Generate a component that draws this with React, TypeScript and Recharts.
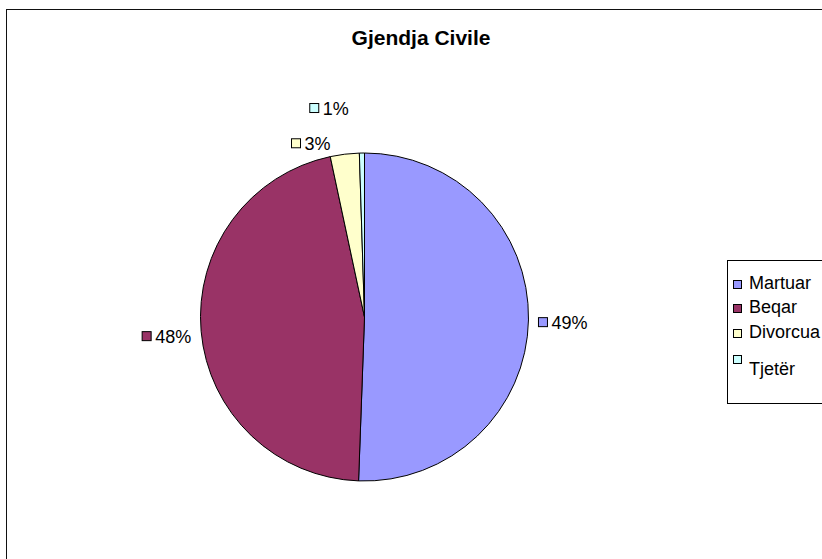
import React from "react";
import { PieChart, Pie, Cell } from "recharts";

const CATEGORIES = ["Martuar", "Beqar", "Divorcua", "Tjetër"];
// slice sizes as drawn (the printed labels are rounded differently)
const SHARES = [50.6, 46.1, 2.85, 0.5];
const LABELS = ["49%", "48%", "3%", "1%"];
const COLORS = ["#9999FF", "#993366", "#FFFFCC", "#CCFFFF"];

const data = CATEGORIES.map((name, i) => ({ name, value: SHARES[i], label: LABELS[i] }));

const FONT = "'Liberation Sans', Arial, sans-serif";
const LABEL_SIZE = 18;
// Excel pushes the two thin top labels apart
const LABEL_NUDGE = [
  { dx: 0, dy: 2 },
  { dx: 0, dy: 4 },
  { dx: -13, dy: -1 },
  { dx: -13, dy: -35 },
];

// rough Arial advance widths for the label text
function textWidth(s: string, size: number) {
  let w = 0;
  for (const ch of s) w += ch === "%" ? 0.889 : 0.556;
  return w * size;
}

const RAD = Math.PI / 180;

function renderLabel(props: any) {
  const { cx, cy, midAngle, outerRadius, index } = props;
  const r = outerRadius + 10;
  const nudge = LABEL_NUDGE[index];
  const ax = cx + r * Math.cos(-midAngle * RAD) + nudge.dx;
  const ay = cy + r * Math.sin(-midAngle * RAD) + nudge.dy;
  const text = LABELS[index];
  const tw = textWidth(text, LABEL_SIZE);
  const right = Math.cos(-midAngle * RAD) >= 0.2;
  const sq = 9;
  const sqX = right ? ax : ax - tw - 13;
  const txX = right ? ax + 13 : ax - tw;
  return (
    <g key={`lbl-${index}`}>
      <rect x={sqX} y={ay - sq / 2} width={sq} height={sq} fill={COLORS[index]} stroke="#000" strokeWidth={1} />
      <text x={txX} y={ay} dy="0.36em" fontFamily={FONT} fontSize={LABEL_SIZE} fill="#000">
        {text}
      </text>
    </g>
  );
}

// legend box runs off the right edge of the picture, like the original
function LegendBox() {
  const rows = [
    { top: 283, sq: 283 },
    { top: 307, sq: 307 },
    { top: 332, sq: 332 },
    { top: 369, sq: 358 },
  ];
  return (
    <div
      style={{
        position: "absolute",
        left: 727,
        top: 260,
        width: 200,
        height: 144,
        border: "1px solid #000",
        borderRight: "none",
        background: "#fff",
        boxSizing: "border-box",
        fontFamily: FONT,
        fontSize: 18,
        color: "#000",
      }}
    >
      {CATEGORIES.map((c, i) => (
        <React.Fragment key={c}>
          <div
            style={{
              position: "absolute",
              left: 5,
              top: rows[i].sq - 260 - 4,
              width: 7,
              height: 7,
              background: COLORS[i],
              border: "1px solid #000",
            }}
          />
          <div
            style={{
              position: "absolute",
              left: 21,
              top: rows[i].top - 260 - 11,
              lineHeight: "21px",
              whiteSpace: "nowrap",
            }}
          >
            {c}
          </div>
        </React.Fragment>
      ))}
    </div>
  );
}

export default function App() {
  return (
    <div
      style={{
        position: "fixed",
        left: 0,
        top: 0,
        width: 822,
        height: 559,
        overflow: "hidden",
        background: "#fff",
      }}
    >
      <div
        style={{
          position: "absolute",
          left: 6,
          top: 9,
          width: 1000,
          height: 1000,
          border: "1.5px solid #111",
        }}
      />
      <div
        style={{
          position: "absolute",
          left: 0,
          top: 25,
          width: 842,
          textAlign: "center",
          fontFamily: FONT,
          fontWeight: "bold",
          fontSize: 21,
          lineHeight: "26px",
          color: "#000",
        }}
      >
        Gjendja Civile
      </div>
      <div style={{ position: "absolute", left: 0, top: 0 }}>
        <PieChart width={822} height={559} margin={{ top: 0, right: 0, bottom: 0, left: 0 }}>
          <Pie
            data={data}
            dataKey="value"
            nameKey="name"
            cx={364.5}
            cy={317}
            outerRadius={164}
            startAngle={90}
            endAngle={-270}
            stroke="#000"
            strokeWidth={1}
            label={renderLabel}
            labelLine={false}
            isAnimationActive={false}
          >
            {data.map((d, i) => (
              <Cell key={d.name} fill={COLORS[i]} />
            ))}
          </Pie>
        </PieChart>
      </div>
      <LegendBox />
    </div>
  );
}
